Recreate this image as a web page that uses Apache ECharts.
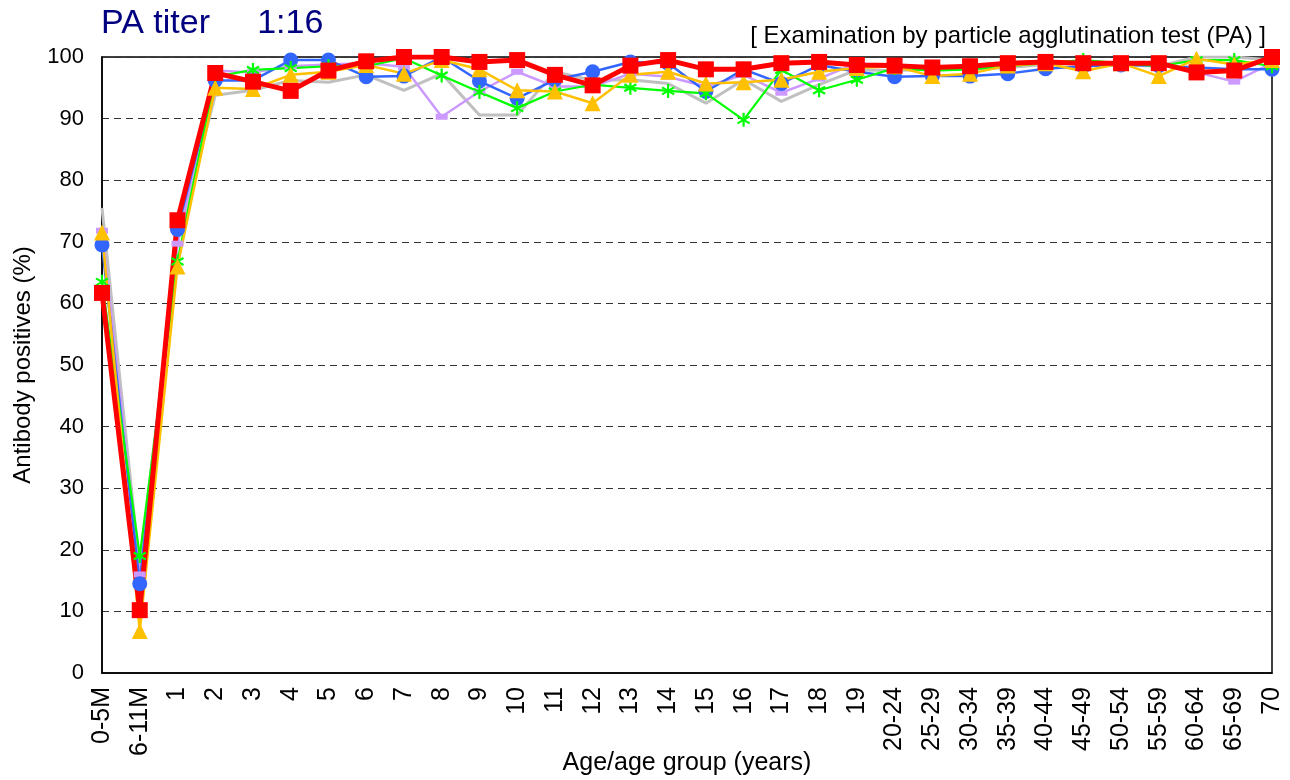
<!DOCTYPE html>
<html>
<head>
<meta charset="utf-8">
<script src="https://cdn.jsdelivr.net/npm/echarts@6/dist/echarts.min.js"></script>
<style>
html,body{margin:0;padding:0;background:#fff;}
#chart{width:1290px;height:780px;}
</style>
</head>
<body>
<div id="chart"></div>
<script>
const categories = ['0-5M','6-11M','1','2','3','4','5','6','7','8','9','10','11','12','13','14','15','16','17','18','19','20-24','25-29','30-34','35-39','40-44','45-49','50-54','55-59','60-64','65-69','70'];
const yTicks = [0,10,20,30,40,50,60,70,80,90,100];
const grayVals   = [75.5,17,70,93.8,94.6,96.2,95.9,97.1,94.6,97.3,90.6,90.6,97.6,96.2,96.3,95.7,92.5,96.3,92.8,95.5,97.9,97.8,98,98,98.3,98.8,99,98.8,98.5,100,100,99.5];
const purpleVals = [71.8,16,69.7,97.8,97.5,98.5,98.8,99,98.4,90.3,94.4,97.6,95.2,95.2,97.3,96.8,95.2,97.1,94.2,96.5,99,98.5,98.3,98.5,98.8,99,99,99.2,98.9,97.5,96,99];
const blueVals   = [69.5,14.5,72,96.2,96.2,99.5,99.5,96.8,96.9,100,96.1,93.3,96.3,97.6,99.2,99,94.4,98,95.7,98.7,97.6,96.8,96.9,96.9,97.3,98.1,98.5,98.7,98.6,98.3,98,98];
const greenVals  = [63.5,19,66.8,96.8,97.9,98.2,98.5,98.5,99.8,97,94.3,91.7,94.4,95.5,95,94.5,94.1,89.8,97.9,94.6,96.3,98.2,97.8,98,98.5,99,99.5,99,98.5,99.5,99.5,98.5];
const yellowVals = [71.5,6.8,66,95,94.8,97.1,97.6,98.7,97.3,99.5,98,94.6,94.4,92.5,97.1,97.6,95.7,95.9,96.3,97.6,98.2,98.5,96.9,97.3,98.6,99,97.7,99,96.9,99.7,98.8,99.5];
const redVals    = [61.7,10.2,73.5,97.4,96.0,94.5,97.8,99.3,100,100,99.2,99.5,97.1,95.4,98.6,99.5,98.0,98.0,99.0,99.2,98.7,98.6,98.3,98.5,99.0,99.2,99.0,99.0,99.0,97.5,97.8,100];

const FONT = "'Liberation Sans', Arial, sans-serif";
const asterisk = 'path://M5,0 L5,10 M0.7,2.5 L9.3,7.5 M9.3,2.5 L0.7,7.5';

const chart = echarts.init(document.getElementById('chart'), null, {renderer:'canvas'});
chart.setOption({
  animation:false,
  backgroundColor:'#fff',
  textStyle:{fontFamily:FONT},
  title:[
    {text:'PA titer     1:16', left:96, top:2, textStyle:{fontFamily:FONT, fontSize:34, fontWeight:'normal', color:'#000080'}},
    {text:'[ Examination by particle agglutination test (PA) ]', right:19, top:19, textStyle:{fontFamily:FONT, fontSize:24, fontWeight:'normal', color:'#000'}}
  ],
  graphic:[
    {type:'text', x:687, y:763, style:{text:'Age/age group (years)', fontFamily:FONT, fontSize:25, fill:'#000',
      textAlign:'center', textVerticalAlign:'middle'}}
  ],
  grid:{left:102, right:18, top:57, bottom:107, containLabel:false, outerBoundsMode:'none',
    show:true, borderColor:'#000', borderWidth:1.5, backgroundColor:'transparent'},
  xAxis:{
    type:'category', data:categories, boundaryGap:false,
    axisLine:{lineStyle:{color:'#000', width:1.5}},
    axisTick:{show:false},
    axisLabel:{rotate:90, fontSize:25, color:'#000', margin:14, interval:0, fontFamily:FONT}
  },
  yAxis:{
    type:'value', min:0, max:100, interval:10,
    name:'Antibody positives (%)', nameLocation:'middle', nameGap:67,
    nameTextStyle:{fontFamily:FONT, fontSize:24, color:'#000'},
    axisLine:{show:true, lineStyle:{color:'#000', width:1.5}},
    axisTick:{show:false},
    axisLabel:{fontSize:22, color:'#000', margin:18, fontFamily:FONT,
      formatter:function(v){return yTicks.indexOf(v)>=0 ? String(v) : '';}},
    splitLine:{show:true, lineStyle:{color:'#333', type:[7,5], width:1}}
  },
  series:[
    {name:'gray', type:'line', data:grayVals, showSymbol:false, symbol:'none',
      lineStyle:{color:'#C0C0C0', width:3}, itemStyle:{color:'#C0C0C0'}},
    {name:'purple', type:'line', data:purpleVals, symbol:'rect', symbolSize:[12,6],
      lineStyle:{color:'#CC99FF', width:2.5}, itemStyle:{color:'#CC99FF'}},
    {name:'blue', type:'line', data:blueVals, symbol:'circle', symbolSize:15,
      lineStyle:{color:'#3366FF', width:2.5}, itemStyle:{color:'#3366FF'}},
    {name:'green', type:'line', data:greenVals, symbol:asterisk, symbolSize:14, symbolKeepAspect:true,
      lineStyle:{color:'#00FF00', width:2.2}, itemStyle:{color:'#00FF00', borderColor:'#00FF00', borderWidth:2.2}},
    {name:'yellow', type:'line', data:yellowVals, symbol:'triangle', symbolSize:16,
      lineStyle:{color:'#FFC000', width:2.5}, itemStyle:{color:'#FFC000'}},
    {name:'red', type:'line', data:redVals, symbol:'rect', symbolSize:16,
      lineStyle:{color:'#FF0000', width:5}, itemStyle:{color:'#FF0000'}}
  ]
});
</script>
</body>
</html>
